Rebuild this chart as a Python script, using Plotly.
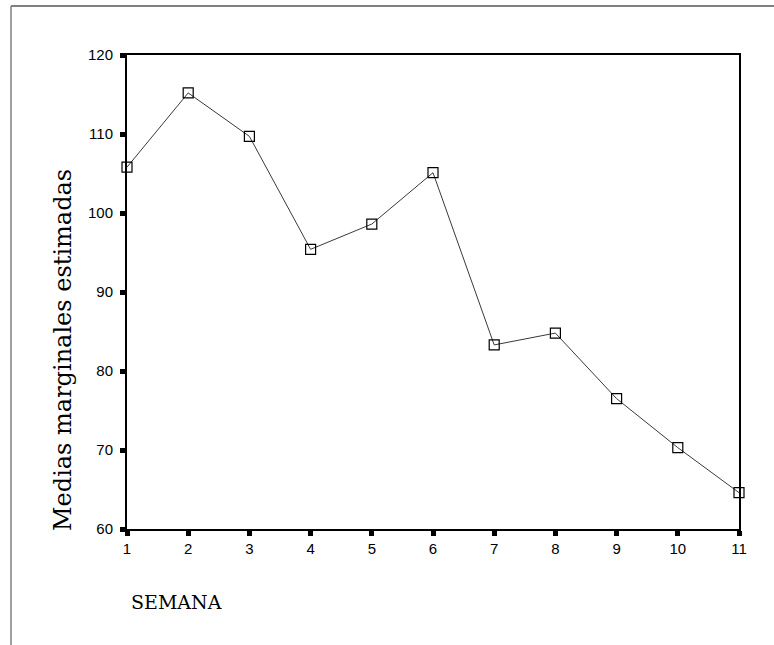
import plotly.graph_objects as go

semana = [1, 2, 3, 4, 5, 6, 7, 8, 9, 10, 11]
medias = [105.8, 115.2, 109.7, 95.4, 98.6, 105.1, 83.3, 84.8, 76.5, 70.3, 64.6]
y_ticks = [60, 70, 80, 90, 100, 110, 120]

W, H = 774, 645
L, R, T, B = 127, 35, 55, 116
pw, ph = W - L - R, H - T - B

def px(x):
    return (x - L) / pw

def py(y):
    return (H - B - y) / ph

fig = go.Figure()
fig.add_trace(go.Scatter(
    x=semana, y=medias, mode="lines+markers",
    line=dict(color="#3a3a3a", width=1),
    marker=dict(symbol="square-open", size=10, color="black", line=dict(width=1.2)),
    cliponaxis=False, showlegend=False,
))

tickfont = dict(family="Liberation Sans, Arial", size=15, color="black")
fig.update_xaxes(
    range=[1, 11], tickvals=semana, ticktext=[str(s) for s in semana],
    showline=True, linecolor="black", linewidth=2, mirror=True,
    ticks="outside", ticklen=5, tickwidth=5, tickcolor="black",
    showgrid=False, zeroline=False, tickfont=tickfont,
)
fig.update_yaxes(
    range=[60, 120], tickvals=y_ticks,
    showline=True, linecolor="black", linewidth=2, mirror=True,
    ticks="outside", ticklen=5, tickwidth=5, tickcolor="black",
    showgrid=False, zeroline=False, tickfont=tickfont, ticklabelstandoff=4,
)

fig.add_annotation(
    text="Medias marginales estimadas", xref="paper", yref="paper",
    x=px(63), y=py(350), textangle=-90, showarrow=False,
    font=dict(family="DejaVu Serif", size=24, color="black"),
    xanchor="center", yanchor="middle",
)
fig.add_annotation(
    text="SEMANA", xref="paper", yref="paper",
    x=px(129), y=py(602), showarrow=False,
    font=dict(family="DejaVu Serif", size=19, color="black"),
    xanchor="left", yanchor="middle",
)

# outer frame (top and left gray lines)
fig.add_shape(type="line", xref="paper", yref="paper",
              x0=px(11), x1=px(774), y0=py(6), y1=py(6),
              line=dict(color="#808080", width=2))
fig.add_shape(type="line", xref="paper", yref="paper",
              x0=px(11), x1=px(11), y0=py(6), y1=py(645),
              line=dict(color="#808080", width=1.5))

fig.update_layout(
    width=W, height=H,
    margin=dict(l=L, r=R, t=T, b=B),
    paper_bgcolor="white", plot_bgcolor="white",
)

fig.write_html("out.html", config={"displayModeBar": False},
               post_script="document.body.style.margin='0';")
